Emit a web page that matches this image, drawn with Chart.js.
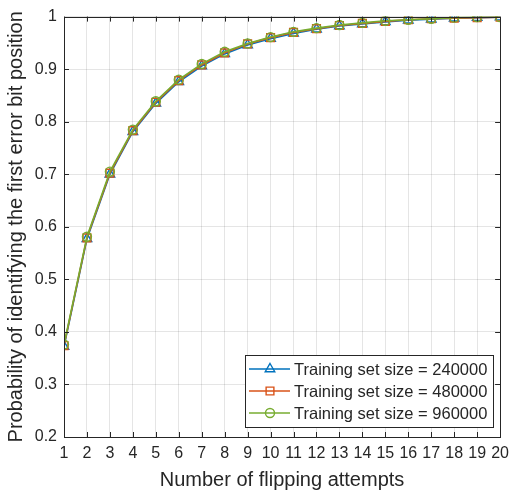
<!DOCTYPE html>
<html>
<head>
<meta charset="utf-8">
<script src="https://cdn.jsdelivr.net/npm/chart.js@4"></script>
<style>
  html, body { margin: 0; padding: 0; background: #fff; }
  #wrap { width: 516px; height: 492px; }
</style>
</head>
<body>
<div id="wrap"><canvas id="chart" width="516" height="492"></canvas></div>
<script>
const attempts = [1, 2, 3, 4, 5, 6, 7, 8, 9, 10, 11, 12, 13, 14, 15, 16, 17, 18, 19, 20];
const size240k = [0.372, 0.577, 0.700, 0.781, 0.835, 0.876, 0.906, 0.929, 0.946, 0.958, 0.968, 0.976, 0.982, 0.986, 0.990, 0.993, 0.995, 0.997, 0.998, 0.999];
const size480k = [0.374, 0.579, 0.702, 0.783, 0.837, 0.878, 0.908, 0.931, 0.948, 0.960, 0.970, 0.977, 0.983, 0.987, 0.991, 0.994, 0.996, 0.997, 0.998, 0.999];
const size960k = [0.376, 0.581, 0.705, 0.785, 0.839, 0.880, 0.910, 0.933, 0.949, 0.961, 0.971, 0.978, 0.984, 0.988, 0.992, 0.994, 0.996, 0.998, 0.999, 0.999];
const yTicks = [0.2, 0.3, 0.4, 0.5, 0.6, 0.7, 0.8, 0.9, 1];

const FONT = "'Liberation Sans', Arial, sans-serif";

function series(label, values, color, style, order) {
    return {
        label: label,
        data: attempts.map((x, i) => ({x: x, y: values[i]})),
        borderColor: color,
        borderWidth: 1.6,
        pointStyle: style,
        pointRadius: style === 'circle' ? 4.5 : 5.5,
        pointBorderColor: color,
        pointBackgroundColor: 'rgba(0,0,0,0)',
        pointBorderWidth: 1.4,
        tension: 0,
        order: order
    };
}

// box around the axes with inward tick marks on all four sides
const boxPlugin = {
    id: 'box',
    afterDatasetsDraw(chart) {
        const {ctx, chartArea: a, scales} = chart;
        ctx.save();
        ctx.strokeStyle = '#262626';
        ctx.lineWidth = 1;
        ctx.beginPath();
        attempts.forEach(v => {
            const px = Math.round(scales.x.getPixelForValue(v)) + 0.5;
            ctx.moveTo(px, a.bottom); ctx.lineTo(px, a.bottom - 5);
            ctx.moveTo(px, a.top); ctx.lineTo(px, a.top + 5);
        });
        yTicks.forEach(v => {
            const py = Math.round(scales.y.getPixelForValue(v)) + 0.5;
            ctx.moveTo(a.left, py); ctx.lineTo(a.left + 5, py);
            ctx.moveTo(a.right, py); ctx.lineTo(a.right - 5, py);
        });
        ctx.stroke();
        ctx.strokeRect(Math.round(a.left) + 0.5, Math.round(a.top) + 0.5,
            Math.round(a.right - a.left), Math.round(a.bottom - a.top));
        ctx.restore();
    }
};

// legend box in the lower right corner of the plot
const legendPlugin = {
    id: 'boxLegend',
    afterDraw(chart) {
        const {ctx} = chart;
        const x0 = 245, y0 = 355, w = 248, h = 72;
        ctx.save();
        ctx.fillStyle = '#fff';
        ctx.fillRect(x0, y0, w, h);
        ctx.strokeStyle = '#262626';
        ctx.lineWidth = 1;
        ctx.strokeRect(x0 + 0.5, y0 + 0.5, w, h);
        ctx.font = '16.5px ' + FONT;
        ctx.textBaseline = 'middle';
        chart.data.datasets.forEach((ds, i) => {
            const yy = y0 + 14 + i * 22;
            ctx.strokeStyle = ds.borderColor;
            ctx.lineWidth = 1.6;
            ctx.beginPath();
            ctx.moveTo(x0 + 4, yy); ctx.lineTo(x0 + 45, yy);
            ctx.stroke();
            ctx.lineWidth = 1.4;
            ctx.fillStyle = 'rgba(0,0,0,0)';
            Chart.helpers.drawPoint(ctx, {pointStyle: ds.pointStyle, radius: ds.pointRadius, rotation: 0, borderWidth: 1.4}, x0 + 25, yy);
            ctx.fillStyle = '#262626';
            ctx.fillText(ds.label, x0 + 49, yy + 1);
        });
        ctx.restore();
    }
};

new Chart(document.getElementById('chart'), {
    type: 'line',
    data: {
        datasets: [
            series('Training set size = 240000', size240k, '#0072BD', 'triangle', 2),
            series('Training set size = 480000', size480k, '#D95319', 'rect', 1),
            series('Training set size = 960000', size960k, '#77AC30', 'circle', 0)
        ]
    },
    options: {
        responsive: false,
        animation: false,
        layout: { padding: { top: 16, right: 11, left: 0, bottom: 0 } },
        plugins: { legend: { display: false }, tooltip: { enabled: false } },
        scales: {
            x: {
                type: 'linear',
                min: 1, max: 20,
                afterBuildTicks(scale) { scale.ticks = attempts.map(v => ({value: v})); },
                afterFit(scale) { scale.height = 55; },
                grid: { color: 'rgba(0,0,0,0.1)', drawTicks: false },
                border: { display: false },
                ticks: { color: '#262626', font: { family: FONT, size: 16 }, padding: 7, maxRotation: 0, autoSkip: false },
                title: { display: true, text: 'Number of flipping attempts', color: '#262626', font: { family: FONT, size: 20 }, padding: { top: 3, bottom: 0 } }
            },
            y: {
                min: 0.2, max: 1,
                afterBuildTicks(scale) { scale.ticks = yTicks.map(v => ({value: v})); },
                afterFit(scale) { scale.width = 64; },
                grid: { color: 'rgba(0,0,0,0.1)', drawTicks: false },
                border: { display: false },
                ticks: { color: '#262626', font: { family: FONT, size: 16 }, padding: 7, callback: v => String(Math.round(v * 10) / 10) },
                title: { display: true, text: 'Probability of identifying the first error bit position', color: '#262626', font: { family: FONT, size: 20 }, padding: { top: 4, bottom: 0 } }
            }
        }
    },
    plugins: [boxPlugin, legendPlugin]
});
</script>
</body>
</html>
